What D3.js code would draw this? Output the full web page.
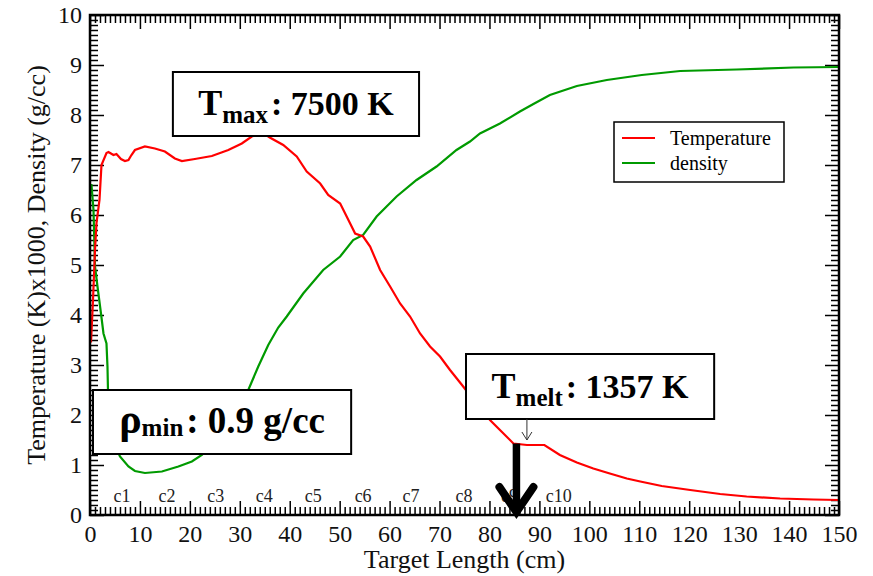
<!DOCTYPE html>
<html>
<head>
<meta charset="utf-8">
<script src="https://cdn.jsdelivr.net/npm/d3@7"></script>
<style>
    body { margin: 0; background: #fff; }
    svg text { font-family: "Liberation Serif", "DejaVu Serif", serif; }
</style>
</head>
<body>
<div id="chart-container"></div>
<script>
// Temperature (K x1000) along the target
var tempX = [0.2, 0.6, 1.0, 1.3, 1.9, 2.3, 3.3, 3.7, 4.7, 5.3, 6.2, 7.0, 7.7, 8.3, 9.0, 11.0, 13.0, 15.0, 17.0, 18.4,
    21.0, 24.4, 27.7, 30.4, 32.4, 34.0, 35.0, 36.0, 38.7, 41.4, 43.4, 46.1, 47.7, 50.1, 52.1, 53.1, 54.7, 56.1, 58.1, 60.1,
    62.1, 64.1, 66.1, 68.1, 70.1, 72.1, 74.5, 77.0, 80.1, 82.1, 84.8, 87.5, 91.0, 94.1, 97.5, 100.8, 104.1, 107.5, 110.2, 114.5,
    120.2, 126.2, 131.5, 138.2, 144.9, 150];
var tempY = [3.45, 4.3, 5.3, 5.84, 6.3, 7.0, 7.24, 7.26, 7.2, 7.22, 7.12, 7.08, 7.1, 7.2, 7.3, 7.37, 7.33, 7.27, 7.13, 7.08,
    7.12, 7.18, 7.3, 7.43, 7.57, 7.62, 7.62, 7.55, 7.4, 7.17, 6.87, 6.63, 6.4, 6.23, 5.83, 5.63, 5.57, 5.37, 4.9, 4.57,
    4.23, 3.97, 3.63, 3.37, 3.17, 2.9, 2.6, 2.28, 1.9, 1.7, 1.43, 1.4, 1.4, 1.2, 1.05, 0.93, 0.83, 0.73, 0.67, 0.58,
    0.5, 0.42, 0.37, 0.33, 0.31, 0.3];

// Density (g/cc) along the target
var densX = [0.0, 0.3, 0.7, 1.0, 1.5, 2.2, 2.7, 3.3, 3.5, 3.6, 4.0, 5.0, 6.0, 7.7, 9.0, 11.0, 14.4, 17.7, 20.4, 22.4,
    25.0, 28.0, 30.0, 31.7, 33.7, 35.7, 37.7, 39.4, 42.7, 46.7, 50.1, 52.7, 54.7, 57.4, 61.4, 65.4, 69.4, 73.4, 76.1, 78.1,
    82.1, 86.1, 88.8, 92.1, 97.5, 103.5, 110.5, 118.2, 129.5, 140.9, 150];
var densY = [6.6, 6.6, 6.1, 4.97, 4.57, 4.03, 3.63, 3.43, 2.97, 2.5, 1.9, 1.4, 1.17, 0.97, 0.88, 0.84, 0.87, 0.97, 1.07, 1.2,
    1.45, 1.85, 2.15, 2.5, 2.97, 3.4, 3.75, 3.97, 4.43, 4.9, 5.17, 5.5, 5.6, 5.97, 6.37, 6.7, 6.97, 7.3, 7.47, 7.63,
    7.83, 8.07, 8.22, 8.4, 8.58, 8.7, 8.8, 8.88, 8.91, 8.95, 8.96];

// Section labels c1..c10 and where they sit (cm)
var sectionNames = ["c1", "c2", "c3", "c4", "c5", "c6", "c7", "c8", "c9", "c10"];
var sectionPos = [6.4, 15.4, 25.2, 34.9, 44.7, 54.7, 64.3, 74.9, 84.0, 93.9];

// Tick values
var xTicks = d3.range(0, 151, 10);
var yTicks = d3.range(0, 11, 1);

var serif = "'Liberation Serif', 'DejaVu Serif', serif";

var margin = { top: 15, right: 34, bottom: 61, left: 90 };
var width = 873 - margin.left - margin.right;
var height = 576 - margin.top - margin.bottom;

var svgRoot = d3.select("#chart-container").append("svg")
    .attr("width", 873)
    .attr("height", 576)
    .style("font-family", serif);

var svg = svgRoot.append("g")
    .attr("transform", "translate(" + margin.left + "," + margin.top + ")");

var x = d3.scaleLinear().domain([0, 150]).range([0, width]);
var y = d3.scaleLinear().domain([0, 10]).range([height, 0]);

svg.append("clipPath").attr("id", "plot-clip")
    .append("rect").attr("width", width).attr("height", height);

// Minor ticks on all four sides
var minorX = d3.range(0, 151, 1).filter(d => d % 10 !== 0);
var minorY = d3.range(0, 100, 1).filter(d => d % 10 !== 0).map(d => d / 10);

svg.append("g").attr("class", "tk").attr("transform", "translate(0," + height + ")")
    .call(d3.axisBottom(x).tickValues(minorX).tickSize(-8).tickFormat(""));
svg.append("g").attr("class", "tk")
    .call(d3.axisTop(x).tickValues(minorX).tickSize(-8).tickFormat(""));
svg.append("g").attr("class", "tk")
    .call(d3.axisLeft(y).tickValues(minorY).tickSize(-8).tickFormat(""));
svg.append("g").attr("class", "tk").attr("transform", "translate(" + width + ",0)")
    .call(d3.axisRight(y).tickValues(minorY).tickSize(-8).tickFormat(""));

// Major ticks
svg.append("g").attr("class", "tk lab").attr("transform", "translate(0," + height + ")")
    .call(d3.axisBottom(x).tickValues(xTicks).tickSize(-14).tickPadding(10));
svg.append("g").attr("class", "tk")
    .call(d3.axisTop(x).tickValues(xTicks).tickSize(-14).tickFormat(""));
svg.append("g").attr("class", "tk lab")
    .call(d3.axisLeft(y).tickValues(yTicks).tickSize(-14).tickPadding(8));
svg.append("g").attr("class", "tk").attr("transform", "translate(" + width + ",0)")
    .call(d3.axisRight(y).tickValues(yTicks).tickSize(-14).tickFormat(""));

svg.selectAll(".tk").attr("font-family", null);
svg.selectAll(".tk .domain").remove();
svg.selectAll(".tk line").attr("stroke", "#000").attr("stroke-width", 1.5);
svg.selectAll(".lab text")
    .style("font-family", serif)
    .attr("font-size", "24px")
    .attr("fill", "#111");

// Curves
var tempData = tempX.map((d, i) => [d, tempY[i]]);
var densData = densX.map((d, i) => [d, densY[i]]);

var line = d3.line().x(d => x(d[0])).y(d => y(d[1]));

var curves = svg.append("g").attr("clip-path", "url(#plot-clip)");
curves.append("path")
    .datum(densData)
    .attr("d", line)
    .attr("fill", "none")
    .attr("stroke", "#009a00")
    .attr("stroke-width", 2.2);
curves.append("path")
    .datum(tempData)
    .attr("d", line)
    .attr("fill", "none")
    .attr("stroke", "#ff0000")
    .attr("stroke-width", 2.2);

// Frame
svg.append("rect")
    .attr("width", width)
    .attr("height", height)
    .attr("fill", "none")
    .attr("stroke", "#000")
    .attr("stroke-width", 2.5);

// Section labels
svg.selectAll(".sec")
    .data(sectionNames)
    .enter()
    .append("text")
    .attr("class", "sec")
    .attr("x", (d, i) => x(sectionPos[i]))
    .attr("y", height - 13)
    .attr("text-anchor", "middle")
    .attr("font-size", "18px")
    .attr("fill", "#222")
    .text(d => d);

// Axis titles
svg.append("text")
    .attr("x", width / 2)
    .attr("y", height + 53)
    .attr("text-anchor", "middle")
    .attr("font-size", "26px")
    .attr("fill", "#111")
    .text("Target Length (cm)");

svg.append("text")
    .attr("transform", "rotate(-90)")
    .attr("x", -(y(5.0)))
    .attr("y", -45)
    .attr("text-anchor", "middle")
    .attr("font-size", "26px")
    .attr("fill", "#111")
    .text("Temperature (K)x1000, Density (g/cc)");

// Legend
var legend = svg.append("g")
    .attr("transform", "translate(" + (width - 225) + "," + 107 + ")");
legend.append("rect")
    .attr("width", 170)
    .attr("height", 60)
    .attr("fill", "#fff")
    .attr("stroke", "#000")
    .attr("stroke-width", 1.5);
legend.append("line")
    .attr("x1", 8).attr("x2", 41).attr("y1", 16).attr("y2", 16)
    .attr("stroke", "#ff0000").attr("stroke-width", 2);
legend.append("text")
    .attr("x", 56).attr("y", 23)
    .attr("font-size", "20px")
    .text("Temperature");
legend.append("line")
    .attr("x1", 8).attr("x2", 41).attr("y1", 41).attr("y2", 41)
    .attr("stroke", "#009a00").attr("stroke-width", 2);
legend.append("text")
    .attr("x", 56).attr("y", 48)
    .attr("font-size", "20px")
    .text("density");

// Annotation boxes: [x0, x1] in cm, [yTop, yBottom] in plot units
function noteBox(x0, x1, yTop, yBot, main, sub, rest, mainSize, restSize, shift) {
    var g = svg.append("g");
    g.append("rect")
        .attr("x", x(x0))
        .attr("y", y(yTop))
        .attr("width", x(x1) - x(x0))
        .attr("height", y(yBot) - y(yTop))
        .attr("fill", "#fff")
        .attr("stroke", "#000")
        .attr("stroke-width", 2);
    var t = g.append("text")
        .attr("x", (x(x0) + x(x1)) / 2)
        .attr("y", (y(yTop) + y(yBot)) / 2 + 11)
        .attr("text-anchor", "middle")
        .attr("font-weight", "bold")
        .attr("fill", "#000");
    t.append("tspan").attr("font-size", mainSize + "px").text(main);
    t.append("tspan").attr("font-size", "25px").attr("dy", shift).text(sub);
    t.append("tspan").attr("font-size", restSize + "px").attr("dy", -shift).attr("dx", 3).text(rest);
}

noteBox(16.6, 65.9, 8.86, 7.58, "T", "max", ": 7500 K", 36, 34, 8);
noteBox(75.3, 125.0, 3.22, 1.92, "T", "melt", ": 1357 K", 36, 34, 8);
noteBox(0.6, 52.3, 2.5, 1.22, "\u03C1", "min", ": 0.9 g/cc", 42, 37, 3);

// Thin pointer from the T_melt box
var tipX = 87.5;
svg.append("path")
    .attr("d", "M" + x(tipX) + "," + y(1.92) + "V" + y(1.5)
        + "M" + (x(tipX) - 5) + "," + (y(1.5) - 8) + "L" + x(tipX) + "," + y(1.5)
        + "L" + (x(tipX) + 5) + "," + (y(1.5) - 8))
    .attr("fill", "none")
    .attr("stroke", "#333")
    .attr("stroke-width", 1);

// Big arrow down to the melt position
var meltX = 85.4;
svg.append("line")
    .attr("x1", x(meltX)).attr("x2", x(meltX))
    .attr("y1", y(1.43)).attr("y2", y(0) - 4)
    .attr("stroke", "#000")
    .attr("stroke-width", 7.5);
svg.append("path")
    .attr("d", "M" + (x(meltX) - 17) + "," + (y(0) - 28) + "L" + x(meltX) + "," + (y(0) - 3)
        + "L" + (x(meltX) + 17) + "," + (y(0) - 28))
    .attr("fill", "none")
    .attr("stroke", "#000")
    .attr("stroke-width", 8)
    .attr("stroke-linecap", "round")
    .attr("stroke-linejoin", "miter");
</script>
</body>
</html>
